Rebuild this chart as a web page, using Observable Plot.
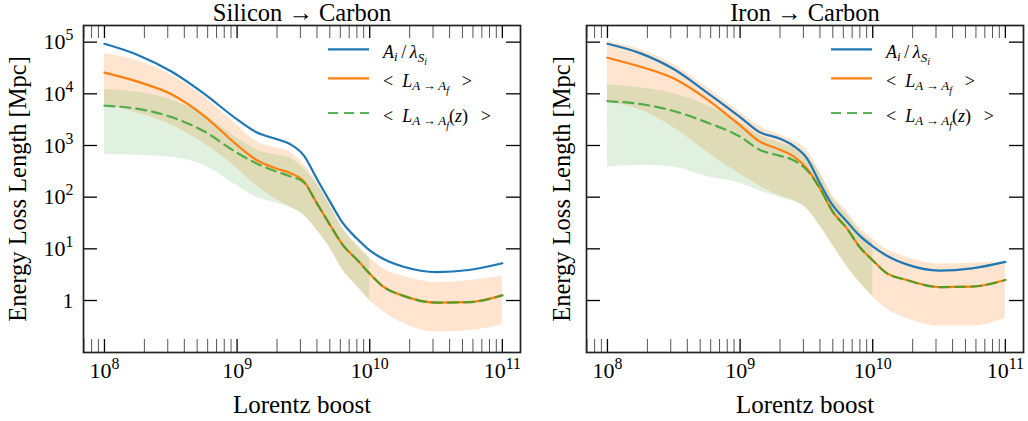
<!DOCTYPE html>
<html>
<head>
<meta charset="utf-8">
<script src="https://cdn.jsdelivr.net/npm/d3@7"></script>
<script src="https://cdn.jsdelivr.net/npm/@observablehq/plot@0.6"></script>
<style>
  html, body { margin: 0; padding: 0; background: #fff; }
  #wrap { display: flex; width: 1028px; height: 421px; overflow: hidden; }
  #wrap svg { display: block; }
</style>
</head>
<body>
<div id="wrap"></div>
<script>
// ---------- data ----------
const boost = [1.0e8, 1.8e8, 3.2e8, 5.6e8, 1.0e9, 1.4e9, 2.0e9, 2.5e9, 3.2e9, 4.0e9,
               5.0e9, 6.3e9, 8.0e9, 1.0e10, 1.25e10, 1.8e10, 3.2e10, 5.6e10, 1.0e11];

// Silicon -> Carbon
const siBlue   = [93000, 56000, 27000, 10200, 3200, 1800, 1320, 1070, 630, 224, 83, 31, 15.8, 9.3, 6.5, 4.5, 3.55, 3.9, 5.25];
const siMean   = [25700, 17000, 9800, 3800, 1020, 525, 355, 295, 200, 76, 29.5, 11.7, 6.2, 3.3, 1.9, 1.23, 0.91, 0.93, 1.26];
const siMeanZ  = [5900, 5100, 3550, 1900, 720, 450, 310, 255, 190, 76, 29.5, 11.7, 6.2, 3.3, 1.9, 1.23, 0.91, 0.93, 1.26];
const siBandHi = [60000, 42600, 23000, 8900, 2450, 1200, 890, 740, 420, 195, 71, 24.5, 12, 6.8, 4.2, 2.95, 2.24, 2.45, 2.95];
const siBandLo = [6300, 4200, 2500, 1100, 360, 166, 89, 66, 45, 23, 10.5, 3.8, 1.9, 1.0, 0.63, 0.36, 0.245, 0.26, 0.34];
const siBandZHi = [12000, 10700, 7600, 4000, 1400, 830, 650, 575, 355, 180, 70, 24, 11.5, 6.5];
const siBandZLo = [680, 645, 590, 415, 166, 100, 76, 63, 44, 23, 10.5, 3.8, 1.9, 1.0];

// Iron -> Carbon
const feBlue   = [93000, 60000, 29500, 10700, 3550, 1820, 1350, 1000, 560, 186, 69, 35, 17.8, 11.2, 7.6, 5.0, 3.8, 4.2, 5.6];
const feMean   = [50000, 33000, 19500, 7900, 2450, 1200, 830, 630, 355, 148, 52, 26, 10.7, 6.0, 3.5, 2.5, 1.82, 1.86, 2.5];
const feMeanZ  = [7200, 6300, 4600, 2800, 1480, 830, 630, 525, 330, 148, 52, 26, 10.7, 6.0, 3.5, 2.5, 1.82, 1.86, 2.5];
const feBandHi = [102000, 71000, 36000, 13500, 4400, 2350, 1600, 1250, 800, 300, 105, 55, 25, 15.5, 10, 6.9, 5.1, 5.25, 5.6];
const feBandLo = [6900, 4800, 2150, 760, 280, 166, 105, 89, 59, 28, 11.7, 4.8, 2.2, 1.2, 0.71, 0.45, 0.32, 0.32, 0.45];
const feBandZHi = [14800, 12900, 10000, 6000, 2800, 1600, 1120, 930, 630, 290, 95, 48, 22, 13.5];
const feBandZLo = [380, 415, 380, 250, 186, 132, 100, 83, 59, 28, 11.7, 4.8, 2.2, 1.2];

// ticks
const xMajor = [1e8, 1e9, 1e10, 1e11];
const xTickLabels = ["10^8", "10^9", "10^10", "10^11"];
const xMinor = [7e7, 8e7, 9e7,
  2e8, 3e8, 4e8, 5e8, 6e8, 7e8, 8e8, 9e8,
  2e9, 3e9, 4e9, 5e9, 6e9, 7e9, 8e9, 9e9,
  2e10, 3e10, 4e10, 5e10, 6e10, 7e10, 8e10, 9e10];
const yMajor = [1, 10, 100, 1000, 10000, 100000];
const yTickLabels = ["1", "10^1", "10^2", "10^3", "10^4", "10^5"];

const titles = ["Silicon \u2192 Carbon", "Iron \u2192 Carbon"];
const xLabel = "Lorentz boost";
const yLabel = "Energy Loss Length [Mpc]";

// ---------- drawing ----------
const H = 421, MT = 25, MB = 69;
const xDomain = [6.95e7, 1.37e11];
const yDomain = [0.0986, 2.1e5];
const FONT = "'Liberation Serif', 'DejaVu Serif', serif";
const C_BLUE = "#1f77b4", C_ORANGE = "#ff7f0e", C_GREEN = "#2ca02c";

function supify(svg) {
  d3.select(svg).selectAll('g[aria-label$="tick label"] text').each(function () {
    const s = this.textContent;
    if (!s.includes("^")) return;
    const [base, exp] = s.split("^");
    const t = d3.select(this);
    t.text(null);
    t.append("tspan").text(base);
    t.append("tspan").attr("font-size", "72%").attr("dy", "-0.55em").text(exp);
  });
}

function mathText(g, x, y, segs) {
  const t = g.append("text").attr("x", x).attr("y", y)
    .attr("font-family", FONT).attr("font-size", 18).attr("fill", "#000")
    .attr("text-anchor", "start")
    .style("white-space", "pre");
  let prev = 0;
  for (const s of segs) {
    const ts = t.append("tspan").text(s.t);
    if (s.i) ts.attr("font-style", "italic");
    if (s.s) ts.attr("font-size", s.s);
    const b = s.b || 0;
    if (b !== prev) ts.attr("dy", b - prev);
    prev = b;
  }
}

function panel(o) {
  const W = o.width;
  const fh = H - MT - MB;
  const fw = W - o.marginLeft - o.marginRight;
  const idx = d3.range(boost.length);
  const zIdx = d3.range(o.zHi.length);
  const X = i => boost[i];
  const curve = "monotone-x";
  const marks = [
    Plot.areaY(idx, {x: X, y1: i => o.lo[i], y2: i => o.hi[i], fill: C_ORANGE, fillOpacity: 0.2, curve}),
    Plot.areaY(zIdx, {x: X, y1: i => o.zLo[i], y2: i => o.zHi[i], fill: C_GREEN, fillOpacity: 0.15, curve}),
    Plot.line(idx, {x: X, y: i => o.blue[i], stroke: C_BLUE, strokeWidth: 2.2, curve}),
    Plot.line(idx, {x: X, y: i => o.mean[i], stroke: C_ORANGE, strokeWidth: 2.2, curve}),
    Plot.line(idx, {x: X, y: i => o.meanZ[i], stroke: C_GREEN, strokeOpacity: 0.8, strokeWidth: 2.2, strokeDasharray: "10,6", curve}),
    // inward ticks
    Plot.tickX(xMinor, {stroke: "#555", strokeWidth: 1, insetBottom: fh - 13}),
    Plot.tickX(xMinor, {stroke: "#555", strokeWidth: 1, insetTop: fh - 13}),
    Plot.tickX(xMajor, {stroke: "#000", strokeWidth: 1.3, insetBottom: fh - 13}),
    Plot.tickX(xMajor, {stroke: "#000", strokeWidth: 1.3, insetTop: fh - 13}),
    Plot.tickY(yMajor, {stroke: "#000", strokeWidth: 1.3, insetRight: fw - 14}),
    Plot.tickY(yMajor, {stroke: "#000", strokeWidth: 1.3, insetLeft: fw - 14}),
    Plot.frame({stroke: "#222", strokeWidth: 1.7}),
    Plot.axisX(xMajor, {tickSize: 0, tickPadding: 10, fontSize: 22, label: null,
      tickFormat: d => xTickLabels[xMajor.indexOf(d)]}),
    Plot.text([o.title], {text: d => d, frameAnchor: "top", dy: -12, fontSize: 24.5, lineAnchor: "middle", textAnchor: "middle"}),
    Plot.text([xLabel], {text: d => d, frameAnchor: "bottom", dy: 52, fontSize: 25, lineAnchor: "middle", textAnchor: "middle"}),
    Plot.text([yLabel], {text: d => d, frameAnchor: "left", dx: o.yLabelDx, rotate: -90, fontSize: 24.5, lineAnchor: "middle", textAnchor: "middle"})
  ];
  if (o.yLabels) {
    marks.push(Plot.axisY(yMajor, {tickSize: 0, tickPadding: 10, fontSize: 22, label: null,
      tickFormat: d => yTickLabels[yMajor.indexOf(d)]}));
  }
  const svg = Plot.plot({
    width: W, height: H,
    marginLeft: o.marginLeft, marginRight: o.marginRight, marginTop: MT, marginBottom: MB,
    style: {fontFamily: FONT, fontSize: "22px", background: "#fff", color: "#000", overflow: "visible"},
    x: {type: "log", domain: xDomain, axis: null},
    y: {type: "log", domain: yDomain, axis: null},
    marks
  });
  supify(svg);

  // legend
  const right = W - o.marginRight;
  const g = d3.select(svg).append("g").attr("aria-label", "legend");
  const sub = (t, b = 3.5, i = 1) => ({t, i, s: 13, b});
  const rows = [
    {y: 49.3, stroke: C_BLUE, op: 1, dash: null, segs: [
      {t: "A", i: 1}, sub("i"), {t: "\u2009/\u2009", b: 0}, {t: "\u03bb", i: 1},
      sub("S", 4), {t: "i", i: 1, s: 10, b: 7.5}]},
    {y: 78.3, stroke: C_ORANGE, op: 1, dash: null, segs: [
      {t: "<\u2002"}, {t: "L", i: 1}, sub("A"), sub("\u2009\u2192\u2009", 3.5, 0),
      sub("A"), {t: "f", i: 1, s: 10, b: 7.5}, {t: "\u2002\u2009>", b: 0}]},
    {y: 113, stroke: C_GREEN, op: 0.8, dash: "10,6", segs: [
      {t: "<\u2002"}, {t: "L", i: 1}, sub("A"), sub("\u2009\u2192\u2009", 3.5, 0),
      sub("A"), {t: "f", i: 1, s: 10, b: 7.5}, {t: "(", b: 0}, {t: "z", i: 1},
      {t: ")\u2002\u2009>"}]}
  ];
  for (const r of rows) {
    const ln = g.append("line").attr("x1", right - 192).attr("x2", right - 151)
      .attr("y1", r.y).attr("y2", r.y).attr("stroke", r.stroke)
      .attr("stroke-opacity", r.op).attr("stroke-width", 2.2);
    if (r.dash) ln.attr("stroke-dasharray", r.dash);
    mathText(g, right - 137, r.y + 8.5, r.segs);
  }
  return svg;
}

const wrap = document.getElementById("wrap");
wrap.appendChild(panel({
  title: titles[0], width: 522, marginLeft: 83, marginRight: 2, yLabelDx: -65, yLabels: true,
  blue: siBlue, mean: siMean, meanZ: siMeanZ, hi: siBandHi, lo: siBandLo, zHi: siBandZHi, zLo: siBandZLo
}));
wrap.appendChild(panel({
  title: titles[1], width: 506, marginLeft: 64, marginRight: 5, yLabelDx: -24, yLabels: false,
  blue: feBlue, mean: feMean, meanZ: feMeanZ, hi: feBandHi, lo: feBandLo, zHi: feBandZHi, zLo: feBandZLo
}));
</script>
</body>
</html>
